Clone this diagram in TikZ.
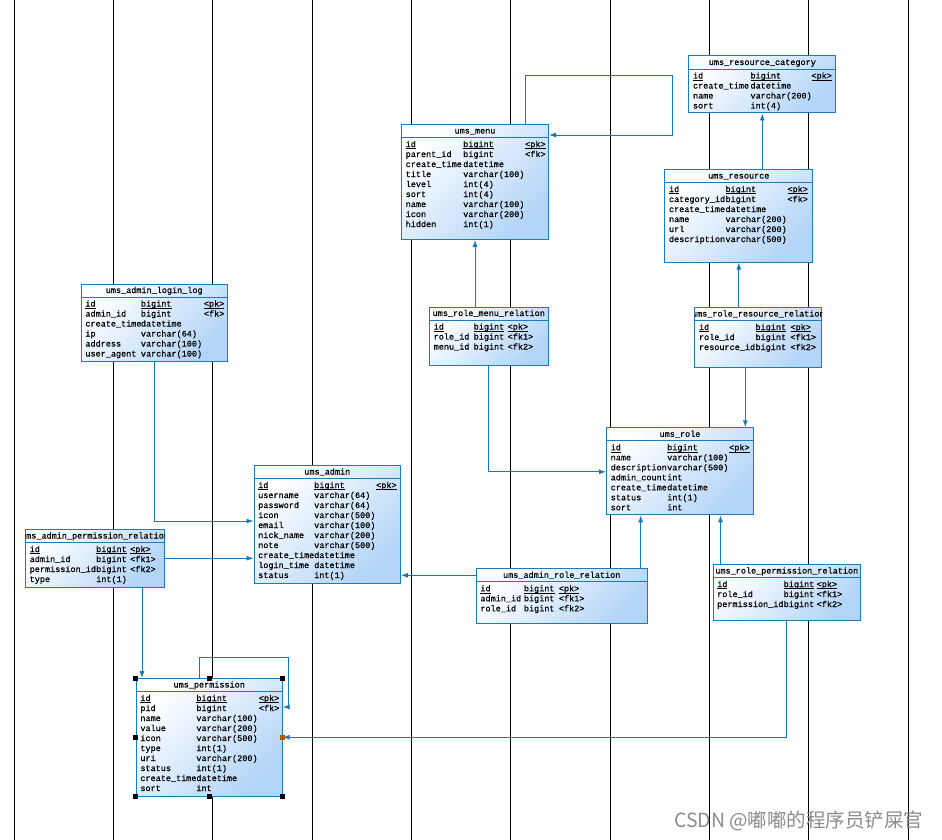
\documentclass[tikz,border=0pt]{standalone}
\usepackage{fontspec}
\usetikzlibrary{arrows.meta,calc}
\newfontfamily\tblfont{Liberation Mono}[FakeBold=0.6]
\newfontfamily\cjkfont{Noto Sans CJK SC}
\definecolor{tblline}{HTML}{1B7BBF}
\definecolor{tblfill}{HTML}{B2D4F7}
\definecolor{linkc}{HTML}{1479BE}
\tikzset{
  tbl/.style={anchor=north west, draw=tblline, line width=1pt, inner sep=0pt,
    top color=white, bottom color=tblfill, shading angle=45},
  cell/.style={anchor=base west, inner sep=0pt, font=\tblfont\fontsize{8.5}{10}\selectfont, text=black},
  link/.style={draw=linkc, line width=0.9pt, -{Latex[length=7pt,width=5pt]}},
  lane/.style={draw=black, line width=0.8pt},
  handle/.style={fill=black, minimum size=5pt, inner sep=0pt},
  wm/.style={font=\cjkfont\fontsize{19.5}{22}\selectfont, text=black!45}
}
\newsavebox\keybox
\newcommand{\pkey}[1]{\sbox\keybox{#1}\rlap{\rule[-1.8pt]{\wd\keybox}{0.6pt}}\usebox\keybox}
% name, x, y, width, height, title, type column, key column, rows
\newcommand{\ertable}[9]{
  \node[tbl, minimum width=#4pt, minimum height=#5pt] (#1) at (#2,#3) {};
  \draw[tblline, line width=0.8pt] ([yshift=-13.5pt]#1.north west) -- ([yshift=-13.5pt]#1.north east);
  \begin{scope}
    \clip (#1.north west) rectangle (#1.south east);
    \node[cell, anchor=base] (#1-title) at ([yshift=-9.5pt]#1.north) {#6};
  \end{scope}
  \foreach \a/\b/\c [count=\i] in {#9} {
    \node[cell] (#1-n\i) at ($(#1.north west)+(4.5,13+10*\i)$) {\a};
    \node[cell] (#1-t\i) at ($(#1.north west)+(#7,13+10*\i)$) {\b};
    \node[cell] (#1-k\i) at ($(#1.north west)+(#8,13+10*\i)$) {\c};
  }
}

\begin{document}
\begin{tikzpicture}[x=1pt, y=-1pt]
  \fill[white] (0,0) rectangle (942,840);
  \useasboundingbox (0,0) rectangle (942,840);
  \foreach \x in {0,...,9}
    \draw[lane] ({14+99.35*\x},0) -- ({14+99.35*\x},840);

  \ertable{cat}{688.3}{55.5}{147}{57}{ums\_resource\_category}{62}{123}
    {\pkey{id}/\pkey{bigint}/\pkey{<pk>}, create\_time/datetime/{}, name/varchar(200)/{}, sort/int(4)/{}}
  \ertable{menu}{401}{124}{147}{115}{ums\_menu}{62}{124}
    {\pkey{id}/\pkey{bigint}/\pkey{<pk>}, parent\_id/bigint/<fk>, create\_time/datetime/{}, title/varchar(100)/{},
     level/int(4)/{}, sort/int(4)/{}, name/varchar(100)/{}, icon/varchar(200)/{}, hidden/int(1)/{}}
  \ertable{res}{664.3}{169}{148}{92.5}{ums\_resource}{61}{123}
    {\pkey{id}/\pkey{bigint}/\pkey{<pk>}, category\_id/bigint/<fk>, create\_time/datetime/{}, name/varchar(200)/{},
     url/varchar(200)/{}, description/varchar(500)/{}}
  \ertable{log}{80.7}{283.5}{146}{77}{ums\_admin\_login\_log}{60}{123}
    {\pkey{id}/\pkey{bigint}/\pkey{<pk>}, admin\_id/bigint/<fk>, create\_time/datetime/{}, ip/varchar(64)/{},
     address/varchar(100)/{}, user\_agent/varchar(100)/{}}
  \ertable{rmr}{429}{306.5}{118.5}{58}{ums\_role\_menu\_relation}{44.5}{78.5}
    {\pkey{id}/\pkey{bigint}/\pkey{<pk>}, role\_id/bigint/<fk1>, menu\_id/bigint/<fk2>}
  \ertable{rrr}{694.3}{307}{127}{59.5}{ums\_role\_resource\_relation}{61}{96}
    {\pkey{id}/\pkey{bigint}/\pkey{<pk>}, role\_id/bigint/<fk1>, resource\_id/bigint/<fk2>}
  \ertable{role}{606}{427.3}{147}{87}{ums\_role}{61}{123}
    {\pkey{id}/\pkey{bigint}/\pkey{<pk>}, name/varchar(100)/{}, description/varchar(500)/{}, admin\_count/int/{},
     create\_time/datetime/{}, status/int(1)/{}, sort/int/{}}
  \ertable{admin}{253.5}{465}{146.5}{117.5}{ums\_admin}{60.5}{122.5}
    {\pkey{id}/\pkey{bigint}/\pkey{<pk>}, username/varchar(64)/{}, password/varchar(64)/{}, icon/varchar(500)/{},
     email/varchar(100)/{}, nick\_name/varchar(200)/{}, note/varchar(500)/{}, create\_time/datetime/{},
     login\_time/datetime/{}, status/int(1)/{}}
  \ertable{apr}{25}{529}{139}{57.5}{ums\_admin\_permission\_relation}{71}{105}
    {\pkey{id}/\pkey{bigint}/\pkey{<pk>}, admin\_id/bigint/<fk1>, permission\_id/bigint/<fk2>, type/int(1)/{}}
  \ertable{arr}{475.7}{568.3}{171}{55}{ums\_admin\_role\_relation}{48}{83}
    {\pkey{id}/\pkey{bigint}/\pkey{<pk>}, admin\_id/bigint/<fk1>, role\_id/bigint/<fk2>}
  \ertable{rpr}{712.5}{564}{147.5}{56}{ums\_role\_permission\_relation}{71}{104}
    {\pkey{id}/\pkey{bigint}/\pkey{<pk>}, role\_id/bigint/<fk1>, permission\_id/bigint/<fk2>}
  \ertable{perm}{135.7}{678}{146}{117.5}{ums\_permission}{60.5}{123}
    {\pkey{id}/\pkey{bigint}/\pkey{<pk>}, pid/bigint/<fk>, name/varchar(100)/{}, value/varchar(200)/{},
     icon/varchar(500)/{}, type/int(1)/{}, uri/varchar(200)/{}, status/int(1)/{}, create\_time/datetime/{}, sort/int/{}}

  \coordinate (menu-top) at ($(menu.north west)+(124,0)$);
  \coordinate (menu-loop) at (672,75);
  \coordinate (menu-in) at ($(menu.north east)+(0,11)$);
  \draw[link] (menu-top) |- (menu-loop) |- (menu-in);
  \draw[link] (cat.south |- res.north) -- (cat.south);
  \draw[link] (menu.south |- rmr.north) -- (menu.south);
  \draw[link] (res.south |- rrr.north) -- (res.south);
  \coordinate (rrr-out) at ($(rrr.south west)+(51,0)$);
  \draw[link] (rrr-out) -- (rrr-out |- role.north);
  \coordinate (role-in) at ($(role.north west)+(0,44.5)$);
  \draw[link] (rmr.south) |- (role-in);
  \coordinate (admin-in) at ($(admin.north west)+(0,56)$);
  \draw[link] (log.south) |- (admin-in);
  \draw[link] (apr.east) -- (apr.east -| admin.west);
  \coordinate (arr-out) at ($(arr.north west)+(0,7)$);
  \draw[link] (arr-out) -- (arr-out -| admin.east);
  \coordinate (arr-up) at ($(arr.north west)+(165,0)$);
  \draw[link] (arr-up) -- (arr-up |- role.south);
  \coordinate (rpr-up) at ($(rpr.north west)+(8,0)$);
  \draw[link] (rpr-up) -- (rpr-up |- role.south);
  \coordinate (apr-down) at ($(apr.south west)+(117,0)$);
  \draw[link] (apr-down) -- (apr-down |- perm.north);
  \coordinate (perm-top) at ($(perm.north west)+(64,0)$);
  \coordinate (perm-loop) at (288,657);
  \coordinate (perm-in) at ($(perm.north east)+(0,29)$);
  \draw[link] (perm-top) |- (perm-loop) |- (perm-in);
  \draw[link] (rpr.south) |- (perm.east);

  \foreach \p [count=\i] in {north west,north,north east,west,south west,south,south east}
    \node[handle] (perm-h\i) at (perm.\p) {};
  \node[handle, fill=orange!70!black] (perm-h8) at (perm.east) {};

  \node[wm, anchor=base east] (wm) at (927,827) {CSDN @嘟嘟的程序员铲屎官};
\end{tikzpicture}
\end{document}
